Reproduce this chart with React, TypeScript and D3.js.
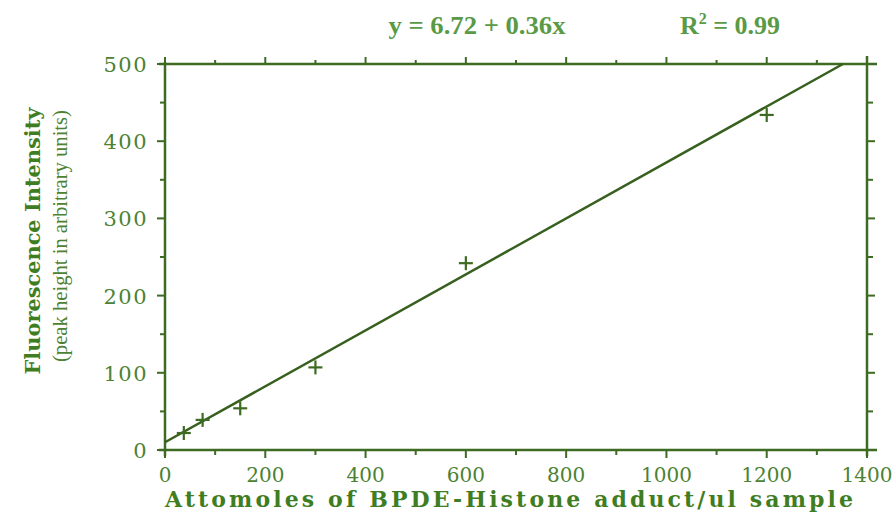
import React from "react";
import * as d3 from "d3";

// data
const amounts = [37.5, 75, 150, 300, 600, 1200];
const intensities = [22, 39, 54, 107, 242, 434];
// fitted line as drawn (start and end)
const fitX = [0, 1352];
const fitY = [10, 500];
const xTickLabels = ["0", "200", "400", "600", "800", "1000", "1200", "1400"];
const yTickLabels = ["0", "100", "200", "300", "400", "500"];

const W = 896;
const H = 514;
const margin = { left: 165, right: 29, top: 64, bottom: 64 };

const axisColor = "#3d6b22";
const labelColor = "#4c8232";
const titleColor = "#3f7d22";
const eqColor = "#5a9a46";
const times = "'Liberation Serif', 'Times New Roman', serif";
// the scanned figure uses a wide schoolbook face for axis text
const wide = "'DejaVu Serif', serif";

const App = () => {
  const x = d3.scaleLinear().domain([0, 1400]).range([margin.left, W - margin.right]);
  const y = d3.scaleLinear().domain([0, 500]).range([H - margin.bottom, margin.top]);

  const x0 = x(0);
  const x1 = x(1400);
  const y0 = y(0);
  const y1 = y(500);

  const xMinor = d3.range(0, 1401, 100);
  const yMinor = d3.range(0, 501, 50);

  const line = d3
    .line<number>()
    .x((_, i) => x(fitX[i]))
    .y((d) => y(d));

  const pts = amounts.map((a, i) => ({ a, v: intensities[i] }));

  return (
    <svg width={W} height={H} style={{ position: "absolute", left: 0, top: 0, background: "#fff" }}>
      {/* equation */}
      <text x={477} y={34} textAnchor="middle" fontFamily={times} fontWeight="bold" fontSize={26} textLength={177} lengthAdjust="spacingAndGlyphs" fill={eqColor}>
        y = 6.72 + 0.36x
      </text>
      <text x={680} y={34} fontFamily={times} fontWeight="bold" fontSize={26} fill={eqColor}>
        R<tspan dy={-10} fontSize={16}>2</tspan>
        <tspan dy={10}> = 0.99</tspan>
      </text>

      {/* frame */}
      <g stroke={axisColor} strokeWidth={2.5} fill="none">
        <line x1={x0 - 6} x2={x1 + 10} y1={y0} y2={y0} />
        <line x1={x0 - 6} x2={x1 + 10} y1={y1} y2={y1} />
        <line x1={x0} x2={x0} y1={y1 - 2} y2={y0 + 6} />
        <line x1={x1} x2={x1} y1={y1 - 8} y2={y0 + 6} />
      </g>

      {/* ticks */}
      <g stroke={axisColor} strokeWidth={2}>
        {xMinor.map((t) => {
          const major = t % 200 === 0;
          return (
            <g key={"xt" + t}>
              <line x1={x(t)} x2={x(t)} y1={y0} y2={y0 + (major ? 8 : 5)} />
              <line x1={x(t)} x2={x(t)} y1={y1} y2={y1 - (major ? 7 : 4)} />
            </g>
          );
        })}
        {yMinor.map((t) => {
          const major = t % 100 === 0;
          return (
            <g key={"yt" + t}>
              <line x1={x0} x2={x0 - (major ? 8 : 5)} y1={y(t)} y2={y(t)} />
              <line x1={x1} x2={x1 + (major ? 8 : 6)} y1={y(t)} y2={y(t)} />
            </g>
          );
        })}
      </g>

      {/* tick labels */}
      {xTickLabels.map((l) => (
        <text
          key={"xl" + l}
          x={x(+l)}
          y={482}
          textAnchor="middle"
          fontFamily={wide}
          fontSize={20}
          fill={labelColor}
        >
          {l}
        </text>
      ))}
      {yTickLabels.map((l) => (
        <text
          key={"yl" + l}
          x={148}
          y={y(+l) + 8}
          textAnchor="end"
          fontFamily={wide}
          fontSize={21}
          letterSpacing={1.5}
          fill={labelColor}
        >
          {l}
        </text>
      ))}

      {/* fit line */}
      <path d={line(fitY) || ""} stroke="#37601f" strokeWidth={2.5} fill="none" />

      {/* data markers */}
      <g stroke={axisColor} strokeWidth={2.2}>
        {pts.map((p) => (
          <g key={"p" + p.a} transform={`translate(${x(p.a)},${y(p.v)})`}>
            <line x1={-7} x2={7} y1={0} y2={0} />
            <line x1={0} x2={0} y1={-7} y2={7} />
          </g>
        ))}
      </g>

      {/* axis titles */}
      <text
        x={509}
        y={507}
        textAnchor="middle"
        fontFamily={wide}
        fontWeight="bold"
        fontSize={22}
        textLength={688}
        lengthAdjust="spacing"
        fill={titleColor}
      >
        Attomoles of BPDE-Histone adduct/ul sample
      </text>
      <text
        transform="translate(40,241) rotate(-90)"
        textAnchor="middle"
        fontFamily={wide}
        fontWeight="bold"
        fontSize={21}
        textLength={267}
        lengthAdjust="spacingAndGlyphs"
        fill={titleColor}
      >
        Fluorescence Intensity
      </text>
      <text
        transform="translate(67,236) rotate(-90)"
        textAnchor="middle"
        fontFamily={times}
        fontSize={20}
        textLength={252}
        lengthAdjust="spacingAndGlyphs"
        fill={labelColor}
      >
        (peak height in arbitrary units)
      </text>
    </svg>
  );
};

export default App;
